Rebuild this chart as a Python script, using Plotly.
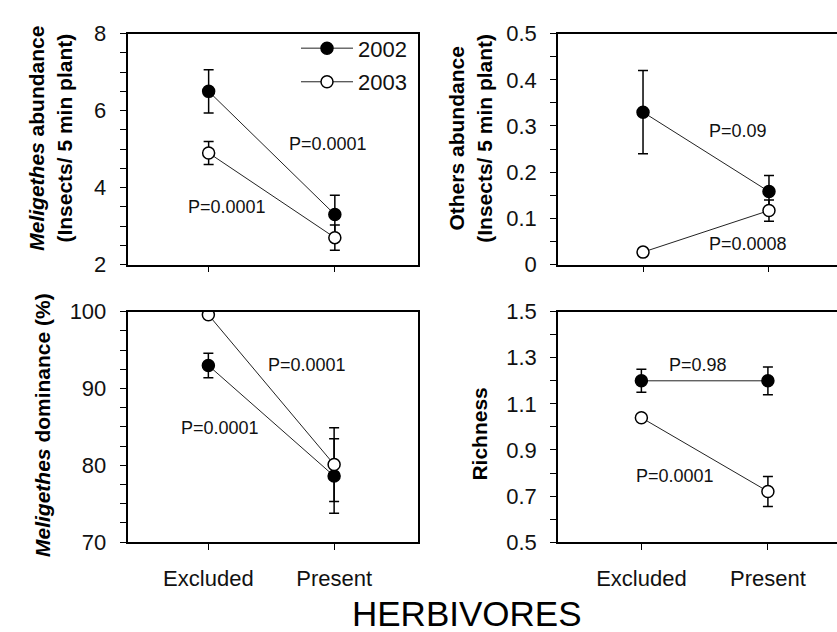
import plotly.graph_objects as go

# ---------------- data ----------------
categories = ["Excluded", "Present"]
years = ["2002", "2003"]

mel_abund_2002 = [6.5, 3.3]
mel_abund_2002_err = [0.56, 0.5]
mel_abund_2003 = [4.9, 2.7]
mel_abund_2003_err = [0.3, 0.33]

others_2002 = [0.33, 0.158]
others_2002_err = [0.09, 0.035]
others_2003 = [0.027, 0.117]
others_2003_err = [0.0, 0.023]

dom_2002 = [93.0, 78.6]
dom_2002_err = [1.6, 4.85]
dom_2003 = [99.6, 80.1]
dom_2003_err = [0.0, 4.8]

rich_2002 = [1.2, 1.2]
rich_2002_err = [0.05, 0.06]
rich_2003 = [1.04, 0.72]
rich_2003_err = [0.0, 0.065]

p_labels_1 = ["P=0.0001", "P=0.0001"]
p_labels_2 = ["P=0.09", "P=0.0008"]
p_labels_3 = ["P=0.0001", "P=0.0001"]
p_labels_4 = ["P=0.98", "P=0.0001"]

y_titles = [
    "<b><i>Meligethes</i> abundance<br>(Insects/ 5 min plant)</b>",
    "<b>Others abundance<br>(Insects/ 5 min plant)</b>",
    "<b><i>Meligethes</i> dominance (%)</b>",
    "<b>Richness</b>",
]
x_title = "HERBIVORES"

# ---------------- figure ----------------
W, H = 837, 632
FONT = "Liberation Sans, Arial, sans-serif"

fig = go.Figure()

panels = [
    ("x", "y", mel_abund_2002, mel_abund_2002_err, mel_abund_2003, mel_abund_2003_err),
    ("x2", "y2", others_2002, others_2002_err, others_2003, others_2003_err),
    ("x3", "y3", dom_2002, dom_2002_err, dom_2003, dom_2003_err),
    ("x4", "y4", rich_2002, rich_2002_err, rich_2003, rich_2003_err),
]

for i, (xa, ya, v02, e02, v03, e03) in enumerate(panels):
    for yr, vals, errs, fill in [("2002", v02, e02, "black"), ("2003", v03, e03, "white")]:
        fig.add_trace(go.Scatter(
            x=categories, y=vals, xaxis=xa, yaxis=ya,
            mode="lines+markers", name=yr, legendgroup=yr,
            showlegend=(i == 0),
            line=dict(color="#222222", width=1),
            marker=dict(size=12, color=fill, line=dict(color="black", width=1.5)),
            error_y=dict(type="data", array=errs, color="black", thickness=1.5, width=5),
        ))


def px_x(p):
    return p / W


def px_y(p):
    return 1 - p / H


def xaxis_cfg(dom, rng, labels, mirror=True):
    return dict(
        domain=dom, range=rng, type="category",
        showline=True, linecolor="black", linewidth=1.5, mirror=mirror,
        ticks="outside", ticklen=6, tickwidth=1.2, tickcolor="black",
        showticklabels=labels, showgrid=False, zeroline=False,
        tickfont=dict(family=FONT, size=22, color="#111111"),
        ticklabelstandoff=10,
    )


def yaxis_cfg(dom, rng, dtick, tick0, minor_dtick, anchor, mirror=True):
    return dict(
        domain=dom, range=rng, anchor=anchor, dtick=dtick, tick0=tick0,
        showline=True, linecolor="black", linewidth=1.5, mirror=mirror,
        ticks="outside", ticklen=6, tickwidth=1.2, tickcolor="black",
        minor=dict(dtick=minor_dtick, tick0=tick0, ticks="outside", ticklen=6,
                   tickwidth=1.2, tickcolor="black", showgrid=False),
        showgrid=False, zeroline=False,
        tickfont=dict(family=FONT, size=22, color="#111111"),
        ticklabelstandoff=9,
    )


top_dom = [px_y(263), px_y(22.5)]
bot_dom = [px_y(552), px_y(312)]
left_dom = [px_x(127.5), px_x(418)]
right_dom = [px_x(558), 1.0]

fig.update_layout(
    xaxis=dict(**xaxis_cfg(left_dom, [-0.643, 1.659], False), anchor="y"),
    yaxis=yaxis_cfg(top_dom, [2, 8], 2, 2, 0.5, "x"),
    xaxis2=dict(**xaxis_cfg(right_dom, [-0.675, 1.54], False), anchor="y2"),
    yaxis2=yaxis_cfg(top_dom, [0, 0.5], 0.1, 0, 0.05, "x2", mirror=False),
    xaxis3=dict(**xaxis_cfg(left_dom, [-0.643, 1.667], True), anchor="y3"),
    yaxis3=yaxis_cfg(bot_dom, [70, 100], 10, 70, 2.5, "x3"),
    xaxis4=dict(**xaxis_cfg(right_dom, [-0.659, 1.546], True), anchor="y4"),
    yaxis4=yaxis_cfg(bot_dom, [0.5, 1.5], 0.2, 0.5, 0.1, "x4", mirror=False),
)

annotations = []
# P-value labels (data coordinates)
p_pos = [
    ("x", "y", p_labels_1, [(0.944, 5.125), (0.143, 3.5)]),
    ("x2", "y2", p_labels_2, [(0.754, 0.29), (0.833, 0.044)]),
    ("x3", "y3", p_labels_3, [(0.786, 93.1), (0.095, 84.9)]),
    ("x4", "y4", p_labels_4, [(0.449, 1.267), (0.268, 0.7875)]),
]
for xa, ya, labels, pos in p_pos:
    for lab, (xx, yy) in zip(labels, pos):
        annotations.append(dict(
            x=xx, y=yy, xref=xa, yref=ya, text=lab, showarrow=False,
            font=dict(family=FONT, size=18, color="#111111"),
            xanchor="center", yanchor="middle",
        ))

# y-axis titles
title_pos = [(50, 132), (470, 132), (43, 430), (480, 440)]
for t, (xx, yy) in zip(y_titles, title_pos):
    annotations.append(dict(
        x=px_x(xx), y=px_y(yy), xref="paper", yref="paper", text=t,
        showarrow=False, textangle=-90,
        font=dict(family=FONT, size=21, color="black"),
        xanchor="center", yanchor="middle",
    ))

annotations.append(dict(
    x=px_x(467), y=px_y(626), xref="paper", yref="paper", text=x_title,
    showarrow=False, font=dict(family=FONT, size=35, color="black"),
    xanchor="center", yanchor="middle",
))

fig.update_layout(
    width=W, height=H,
    margin=dict(l=0, r=0, t=0, b=0),
    paper_bgcolor="white", plot_bgcolor="white",
    annotations=annotations,
    showlegend=True,
    legend=dict(
        x=px_x(296), y=px_y(16), xanchor="left", yanchor="top",
        bgcolor="rgba(0,0,0,0)", borderwidth=0,
        font=dict(family=FONT, size=22, color="#111111"),
        traceorder="grouped", tracegroupgap=2, itemwidth=52,
    ),
)

fig.write_html("out.html")
